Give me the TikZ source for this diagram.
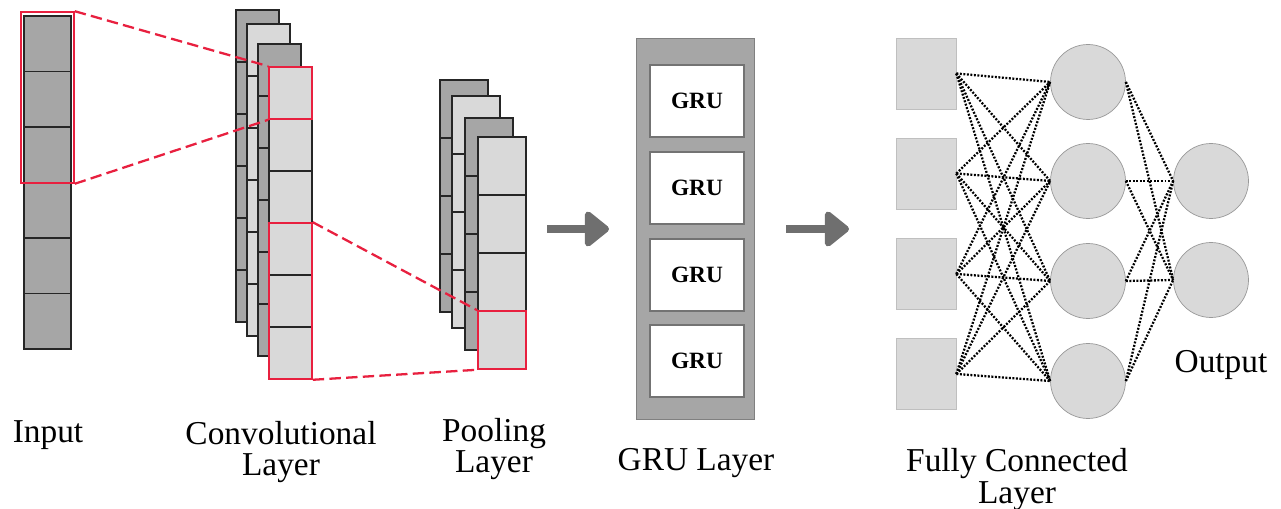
\documentclass[tikz,border=0pt]{standalone}
\usepackage{fontspec}
\setmainfont{Liberation Serif}
\usepackage{tikz}
\usetikzlibrary{arrows.meta}
\definecolor{darkcell}{HTML}{A6A6A6}
\definecolor{lightcell}{HTML}{D9D9D9}
\definecolor{linkred}{HTML}{E8203F}
\definecolor{arrowgray}{HTML}{6F6F6F}
\tikzset{cell/.style={draw=black!85, line width=0.9pt, inner sep=0pt}}
\tikzset{incell/.style={cell, fill=darkcell, minimum width=0.94cm, minimum height=1.11cm}}
\tikzset{convcell/.style={cell, fill=#1, minimum width=0.86cm, minimum height=1.04cm}}
\tikzset{poolcell/.style={cell, fill=#1, minimum width=0.96cm, minimum height=1.16cm}}
\tikzset{redbox/.style={draw=linkred, line width=0.9pt, inner sep=0pt}}
\tikzset{redlink/.style={draw=linkred, line width=1.3pt, dash pattern=on 6.5pt off 3pt}}
\tikzset{layerarrow/.style={draw=arrowgray, line width=4pt, -{Triangle[length=15pt, width=23pt, round]}}}
\tikzset{grubox/.style={draw=black!55, line width=0.6pt, fill=white, minimum width=1.88cm, minimum height=1.44cm, font=\fontsize{13.3}{15}\selectfont\bfseries}}
\tikzset{fcsquare/.style={draw=black!25, fill=lightcell, minimum width=1.2cm, minimum height=1.42cm, inner sep=0pt}}
\tikzset{neuron/.style={circle, draw=black!40, fill=lightcell, minimum size=1.5cm, inner sep=0pt}}
\tikzset{link/.style={line width=1.3pt, dash pattern=on 1.1pt off 0.9pt}}
\tikzset{layername/.style={font=\fontsize{19}{18}\selectfont, align=center, anchor=base}}

\begin{document}
\begin{tikzpicture}[x=0.02cm, y=-0.02cm]
    \useasboundingbox (0,0) rectangle (1281,509);
    % input column
    \foreach \j in {1,...,6}
        \node[incell] (in-\j) at (47.5, {16+55.5*\j-27.75}) {};
    \node[redbox, minimum width=1.06cm, minimum height=3.42cm] (inred) at (47.5,97.5) {};
    % convolutional feature maps
    \foreach \k/\x/\y/\c in {1/236/10/darkcell, 2/247/24/lightcell, 3/258/44/darkcell, 4/269/67/lightcell}
        \foreach \j in {1,...,6}
            \node[convcell=\c] (conv-\k-\j) at (\x+21.5, {\y+52*\j-26}) {};
    \node[redbox, minimum width=0.86cm, minimum height=1.04cm] (convred1) at (conv-4-1) {};
    \node[redbox, minimum width=0.86cm, minimum height=3.12cm] (convred2) at (conv-4-5) {};
    % pooling maps
    \foreach \k/\x/\y/\c in {1/440/80/darkcell, 2/452/96/lightcell, 3/465/118/darkcell, 4/478/137/lightcell}
        \foreach \j in {1,...,4}
            \node[poolcell=\c] (pool-\k-\j) at (\x+24, {\y+58*\j-29}) {};
    \node[redbox, minimum width=0.96cm, minimum height=1.16cm] (poolred) at (pool-4-4) {};
    \draw[redlink] (inred.north east) -- (convred1.north west);
    \draw[redlink] (inred.south east) -- (convred1.south west);
    \draw[redlink] (convred2.north east) -- (poolred.north west);
    \draw[redlink] (convred2.south east) -- (poolred.south west);
    % GRU layer
    \node[draw=black!50, fill=darkcell, minimum width=2.36cm, minimum height=7.62cm] (gru) at (695,228.5) {};
    \foreach \i/\y in {1/101, 2/188, 3/275, 4/361}
        \node[grubox] (gru-\i) at (697,\y) {GRU};
    \coordinate (arr1s) at (547,229);
    \coordinate (arr1e) at (609,229);
    \coordinate (arr2s) at (786,229);
    \coordinate (arr2e) at (849,229);
    \draw[layerarrow] (arr1s) -- (arr1e);
    \draw[layerarrow] (arr2s) -- (arr2e);
    % fully connected part
    \foreach \i/\y in {1/73.5, 2/173.5, 3/274, 4/374}
        \node[fcsquare] (fc-\i) at (926,\y) {};
    \foreach \i/\y in {1/82, 2/181, 3/281, 4/381}
        \node[neuron] (hid-\i) at (1088,\y) {};
    \foreach \i/\y in {1/181, 2/280}
        \node[neuron] (out-\i) at (1211,\y) {};
    \foreach \a in {1,...,4}
        \foreach \b in {1,...,4}
            \draw[link] (fc-\a.east) -- (hid-\b.west);
    \foreach \a in {1,...,4}
        \foreach \b in {1,2}
            \draw[link] (hid-\a.east) -- (out-\b.west);
    % labels
    \node[layername] (lbl-in) at (48,443) {Input};
    \node[layername] (lbl-conv) at (281,476) {Convolutional\\Layer};
    \node[layername] (lbl-pool) at (494,473) {Pooling\\Layer};
    \node[layername] (lbl-gru) at (696,471) {GRU Layer};
    \node[layername] (lbl-fc) at (1017,503) {Fully Connected\\Layer};
    \node[layername] (lbl-out) at (1221,373) {Output};
\end{tikzpicture}
\end{document}
